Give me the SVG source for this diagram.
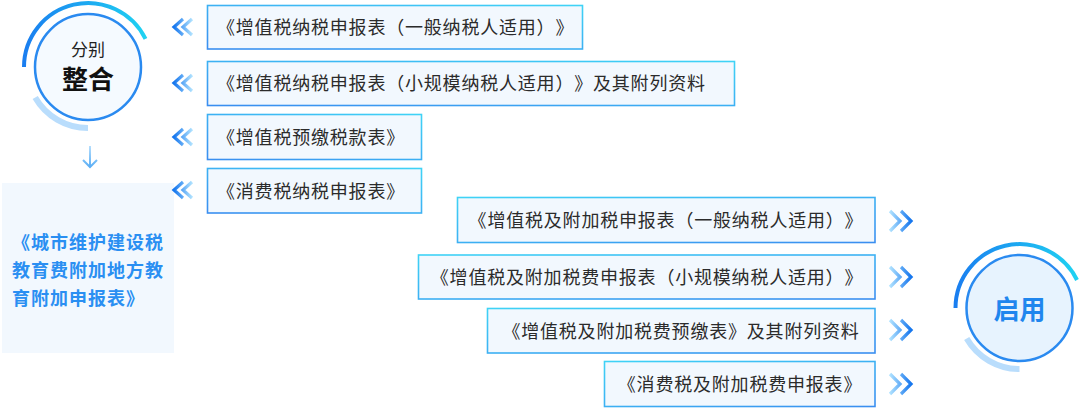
<svg xmlns="http://www.w3.org/2000/svg" width="1080" height="408" viewBox="0 0 1080 408">
<style>
text{text-spacing-trim:space-all}
.box{fill:#f2f8fe;stroke-width:1.6}
.bl{stroke:url(#gL)}
.br{stroke:url(#gR)}
.t{font-family:"Noto Sans CJK SC","Noto Sans",sans-serif;font-size:18px;fill:#2b2b2b;text-anchor:middle;letter-spacing:0.8px}
.ts{text-anchor:start}
.chevL{fill:none;stroke:url(#cL);stroke-width:3.2;stroke-linecap:butt}
.chevR{fill:none;stroke:url(#cR);stroke-width:3.2;stroke-linecap:butt}
.ring{stroke:#2a8af0;stroke-width:2.5}
.arcO{fill:none;stroke:url(#aO);stroke-width:4}
.arcI{fill:none;stroke:#b9ddfc;stroke-width:6}
.cjk{font-family:"Noto Sans CJK SC","Noto Sans",sans-serif}
</style>
<defs>
<linearGradient id="gL" x1="0" y1="1" x2="1" y2="0"><stop offset="0" stop-color="#3a8ef0"/><stop offset="1" stop-color="#3fd3f6"/></linearGradient>
<linearGradient id="gR" x1="0" y1="0" x2="1" y2="1"><stop offset="0" stop-color="#3fd3f6"/><stop offset="1" stop-color="#3a8ef0"/></linearGradient>
<linearGradient id="cL" x1="0" y1="0" x2="1" y2="0"><stop offset="0" stop-color="#1576ee"/><stop offset="1" stop-color="#b0e2ff"/></linearGradient>
<linearGradient id="cR" x1="0" y1="0" x2="1" y2="0"><stop offset="0" stop-color="#b0e2ff"/><stop offset="1" stop-color="#1576ee"/></linearGradient>
<linearGradient id="aO" x1="0" y1="0" x2="1" y2="0"><stop offset="0" stop-color="#1a7ef0"/><stop offset="1" stop-color="#1fd2f2"/></linearGradient>
<linearGradient id="dA" x1="0" y1="0" x2="0" y2="1"><stop offset="0" stop-color="#b5defd"/><stop offset="1" stop-color="#5aaef5"/></linearGradient>
</defs>

<g id="node-merge">
<path class="arcO" d="M24,67 A64,64 0 0 1 145.5,38.9"/>
<path class="arcI" d="M35.2,97.5 A61,61 0 0 0 88,128"/>
<circle class="ring" cx="88" cy="67" r="53" fill="#f5faff"/>
<text class="cjk" x="88" y="56" font-size="17" fill="#222" text-anchor="middle">分别</text>
<text class="cjk" x="88" y="89" font-size="26" font-weight="bold" fill="#111" text-anchor="middle">整合</text>
</g>

<g id="node-city">
<rect x="2" y="183" width="172" height="170" fill="#f2f8fe"/>
<text class="cjk" font-size="18" font-weight="bold" fill="#2a8ff2" letter-spacing="1">
<tspan x="12" y="249">《城市维护建设税</tspan>
<tspan x="12" y="277">教育费附加地方教</tspan>
<tspan x="12" y="305">育附加申报表》</tspan>
</text>
</g>

<g id="node-enable">
<path class="arcO" d="M955.5,308 A64,64 0 0 1 1077,280"/>
<path class="arcI" d="M966.7,338.5 A61,61 0 0 0 1019.5,369"/>
<circle class="ring" cx="1019.5" cy="308" r="53" fill="#e7f3fe"/>
<text class="cjk" x="1019.5" y="319" font-size="26" font-weight="bold" fill="#1f86ee" text-anchor="middle">启用</text>
</g>

<g id="node-l1"><rect class="box bl" x="207.5" y="5.5" width="375" height="43.5"/><text class="t ts" x="217" y="34">《增值税纳税申报表（一般纳税人适用）》</text></g>
<g id="node-l2"><rect class="box bl" x="207.5" y="61.5" width="527" height="44"/><text class="t ts" x="217" y="90">《增值税纳税申报表（小规模纳税人适用）》及其附列资料</text></g>
<g id="node-l3"><rect class="box bl" x="207.5" y="114.5" width="214" height="45"/><text class="t ts" x="217" y="144">《增值税预缴税款表》</text></g>
<g id="node-l4"><rect class="box bl" x="207.5" y="168.5" width="214" height="44.5"/><text class="t ts" x="217" y="198">《消费税纳税申报表》</text></g>

<g id="node-r1"><rect class="box br" x="457.5" y="197.5" width="417.5" height="45"/><text class="t" x="666" y="227">《增值税及附加税申报表（一般纳税人适用）》</text></g>
<g id="node-r2"><rect class="box br" x="418.5" y="255" width="456.5" height="44"/><text class="t" x="647" y="284">《增值税及附加税费申报表（小规模纳税人适用）》</text></g>
<g id="node-r3"><rect class="box br" x="487.5" y="308.5" width="387.5" height="44.5"/><text class="t" x="681" y="338">《增值税及附加税费预缴表》及其附列资料</text></g>
<g id="node-r4"><rect class="box br" x="604.5" y="361.5" width="270.5" height="45"/><text class="t" x="740" y="391">《消费税及附加税费申报表》</text></g>

<g id="connectors">
<path class="chevL" d="M183,19 L174,27 L183,35 M192,19 L183,27 L192,35"/>
<path class="chevL" d="M183,75 L174,83 L183,91 M192,75 L183,83 L192,91"/>
<path class="chevL" d="M183,129 L174,137 L183,145 M192,129 L183,137 L192,145"/>
<path class="chevL" d="M183,182 L174,190 L183,198 M192,182 L183,190 L192,198"/>
<path class="chevR" d="M890,211 L900,221 L890,231 M901,211 L911,221 L901,231"/>
<path class="chevR" d="M890,267 L900,277 L890,287 M901,267 L911,277 L901,287"/>
<path class="chevR" d="M890,320 L900,330 L890,340 M901,320 L911,330 L901,340"/>
<path class="chevR" d="M890,374 L900,384 L890,394 M901,374 L911,384 L901,394"/>
<path d="M90,146 L90,167 M83,160 L90,167 L97,160" fill="none" stroke="url(#dA)" stroke-width="2"/>
</g>
</svg>
